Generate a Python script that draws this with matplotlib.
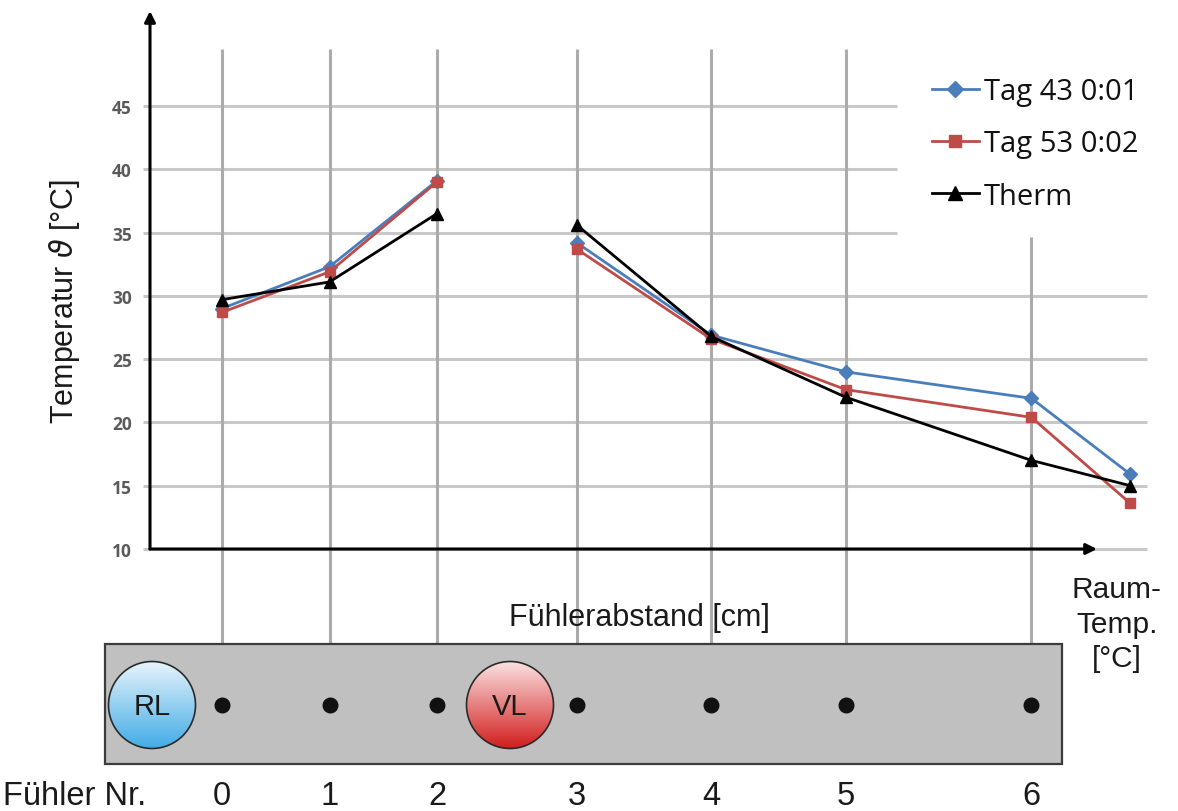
import numpy as np
import matplotlib
matplotlib.use("Agg")
import matplotlib.pyplot as plt
from matplotlib.patches import Ellipse, Rectangle
from matplotlib.transforms import blended_transform_factory
from matplotlib.colors import to_rgb

# ---------------- data ----------------
sensor_ids = ["0", "1", "2", "3", "4", "5", "6"]
sensor_pos = [0.0, 1.0, 2.0, 3.3, 4.55, 5.8, 7.53]   # Fühlerabstand
room_pos = 8.45                                       # Raum-Temp. column
positions = sensor_pos + [room_pos]

tag43 = [29.0, 32.3, 39.1, 34.2, 26.9, 24.0, 21.9, 15.9]
tag53 = [28.7, 31.9, 39.0, 33.7, 26.6, 22.6, 20.4, 13.6]
therm = [29.7, 31.1, 36.5, 35.6, 26.8, 22.0, 17.0, 15.0]

series_labels = ["Tag 43 0:01", "Tag 53 0:02", "Therm"]
y_ticks = [10, 15, 20, 25, 30, 35, 40, 45]

# ---------------- figure ----------------
W, H = 1178, 812
fig = plt.figure(figsize=(W / 100, H / 100), dpi=100)
fig.patch.set_facecolor("white")

MAIN_FONT = ["Liberation Sans", "DejaVu Sans"]
plt.rcParams["mathtext.fontset"] = "dejavusans"

ax = fig.add_axes([150 / W, (H - 550) / H, 1000 / W, 538 / H])
ax.set_xlim(-72 / 107.5, 928 / 107.5)
ax.set_ylim(10, 10 + 538 / (443 / 35))
for s in ax.spines.values():
    s.set_visible(False)
ax.set_xticks([])
ax.set_yticks(y_ticks)
ax.set_yticklabels([str(v) for v in y_ticks], fontfamily="Open Sans",
                   fontweight="bold", fontsize=12.5, color="#5a5a5a")
ax.tick_params(axis="y", length=0, pad=13)
ax.patch.set_alpha(0)

# horizontal grid (stops short under the legend)
tr_h = blended_transform_factory(ax.transAxes, ax.transData)
for v in y_ticks:
    right = 0.747 if v >= 35 else 0.997
    ax.plot([-0.007, right], [v, v], transform=tr_h, color="#c8c8c8",
            lw=2.2, clip_on=False, zorder=1, solid_capstyle="butt")

# vertical sensor lines reaching down to the pipe
tr_v = blended_transform_factory(ax.transData, ax.transAxes)
for i, p in enumerate(sensor_pos):
    top = 0.58 if i == len(sensor_pos) - 1 else 0.929
    ax.plot([p, p], [-0.18, top], transform=tr_v, color="#ababab",
            lw=2.2, clip_on=False, zorder=1, solid_capstyle="butt")

# axis arrows
arrow = dict(arrowstyle="-|>", color="black", lw=2.2, mutation_scale=16,
             shrinkA=0, shrinkB=0)
ax.annotate("", xy=(0, 1), xytext=(0, 0), xycoords="axes fraction",
            arrowprops=arrow, zorder=3)
ax.annotate("", xy=(0.947, 0), xytext=(0, 0), xycoords="axes fraction",
            arrowprops=arrow, zorder=3)

# series (gap between sensor 2 and sensor 3)
styles = [
    (tag43, "#4a7ebb", "D", 7.0),
    (tag53, "#be4b48", "s", 7.5),
    (therm, "#000000", "^", 8.5),
]
handles = []
for (vals, color, marker, ms), label in zip(styles, series_labels):
    h, = ax.plot(positions[:3], vals[:3], color=color, lw=2.0, marker=marker,
                 ms=ms, mec=color, mfc=color, zorder=4, clip_on=False,
                 label=label)
    ax.plot(positions[3:], vals[3:], color=color, lw=2.0, marker=marker,
            ms=ms, mec=color, mfc=color, zorder=4, clip_on=False)
    handles.append(h)

leg = ax.legend(handles=handles, loc="upper left",
                bbox_to_anchor=((932 - 150) / 1000, (550 - 78) / 538),
                frameon=False, prop={"family": "Open Sans", "size": 21},
                handlelength=1.6, handletextpad=0.18, labelspacing=0.8,
                borderaxespad=0, borderpad=0, markerscale=1.2)
for t in leg.get_texts():
    t.set_color("#111111")

# ---------------- pipe sketch and labels (pixel coordinates) ----------------
deco = fig.add_axes([0, 0, 1, 1], zorder=5)
deco.axis("off")
deco.patch.set_alpha(0)
deco.set_autoscale_on(False)
deco.set_xlim(0, W)
deco.set_ylim(H, 0)


def px_x(pos):
    return ax.transData.transform((pos, 10))[0]


deco.add_patch(Rectangle((105, 645), 957, 120, fc="#c0c0c0", ec="#3c3c3c",
                         lw=1.6, zorder=2))

for p in sensor_pos:
    deco.plot(px_x(p), 706, "o", color="#111111", ms=10.5, zorder=5)


def ball(cx, cy, r, top_col, bottom_col, text):
    t = np.linspace(0, 1, 256)[:, None, None]
    img = (1 - t) * np.array(to_rgb(top_col)) + t * np.array(to_rgb(bottom_col))
    img = np.repeat(img, 2, axis=1)
    im = deco.imshow(img, extent=(cx - r, cx + r, cy + r, cy - r),
                     aspect="auto", interpolation="bilinear", zorder=3)
    e = Ellipse((cx, cy), 2 * r, 2 * r, fc="none", ec="#2a2a2a", lw=1.2,
                zorder=4)
    deco.add_patch(e)
    im.set_clip_path(e)
    deco.text(cx, cy + 1, text, ha="center", va="center", fontsize=21,
              family=MAIN_FONT, color="#1a1a1a", zorder=6)


ball(152, 706, 43.5, "#e8f4fb", "#42ace6", "RL")
ball(510, 706, 43.5, "#fbe3e3", "#d21e1e", "VL")

txt = dict(family=MAIN_FONT, fontsize=22, color="#1a1a1a", ha="center",
           va="center")
bottom_txt = dict(txt, fontsize=23.5)
deco.text(75, 797, "Fühler Nr.", **bottom_txt)
for p, sid in zip(sensor_pos, sensor_ids):
    deco.text(px_x(p), 797, sid, **bottom_txt)
deco.text(639, 618, "Fühlerabstand [cm]", **txt)
for y, line in zip([590, 625, 659], ["Raum-", "Temp.", "[°C]"]):
    deco.text(1117, y, line, **dict(txt, fontsize=21.5))
deco.text(65, 302, r"Temperatur $\vartheta$ [°C]", rotation=90, **txt)

deco.set_xlim(0, W)
deco.set_ylim(H, 0)

fig.savefig("out.png", dpi=100)
